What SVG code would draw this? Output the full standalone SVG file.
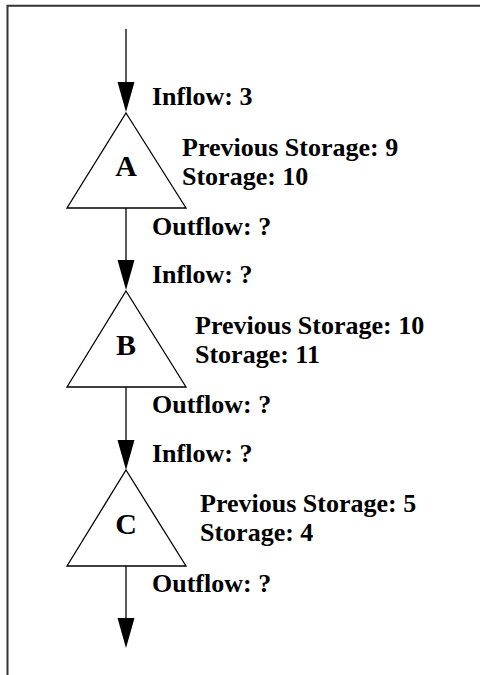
<svg xmlns="http://www.w3.org/2000/svg" width="480" height="675" viewBox="0 0 480 675">
<style>
.t{font-family:"Liberation Serif","Times New Roman",serif;font-weight:bold;font-size:26px;fill:#000}
.n{font-family:"Liberation Serif","Times New Roman",serif;font-weight:bold;font-size:30px;fill:#000;text-anchor:middle}
.tri{fill:#fff;stroke:#000;stroke-width:1.3}
.ln{stroke:#000;stroke-width:1.3;fill:none}
.ah{fill:#000}
</style>
<rect width="480" height="675" fill="#fff"/>
<path d="M7.5,675 V5.8 H480" fill="none" stroke="#333" stroke-width="2"/>
<g id="connectors">
<line class="ln" x1="126" y1="29" x2="126" y2="84"/>
<polygon class="ah" points="117.5,82 134.5,82 126,112"/>
<line class="ln" x1="126" y1="208" x2="126" y2="262"/>
<polygon class="ah" points="117.5,260 134.5,260 126,290"/>
<line class="ln" x1="126" y1="387" x2="126" y2="442"/>
<polygon class="ah" points="117.5,440 134.5,440 126,470"/>
<line class="ln" x1="126" y1="566" x2="126" y2="620"/>
<polygon class="ah" points="117.5,618 134.5,618 126,648"/>
</g>
<g id="A">
<polygon class="tri" points="126,113 186,208 67,208"/>
<text class="n" x="126" y="176">A</text>
<text class="t" x="152" y="105">Inflow: 3</text>
<text class="t" x="182" y="155.5">Previous Storage: 9</text>
<text class="t" x="182" y="184.5">Storage: 10</text>
<text class="t" x="152" y="235">Outflow: ?</text>
</g>
<g id="B">
<polygon class="tri" points="126,291 186,387 67,387"/>
<text class="n" x="126" y="355">B</text>
<text class="t" x="152" y="283">Inflow: ?</text>
<text class="t" x="195" y="333.5">Previous Storage: 10</text>
<text class="t" x="195" y="362.5">Storage: 11</text>
<text class="t" x="152" y="413">Outflow: ?</text>
</g>
<g id="C">
<polygon class="tri" points="126,470 186,566 67,566"/>
<text class="n" x="126" y="534">C</text>
<text class="t" x="152" y="462">Inflow: ?</text>
<text class="t" x="200" y="511.5">Previous Storage: 5</text>
<text class="t" x="200" y="540.5">Storage: 4</text>
<text class="t" x="152" y="592">Outflow: ?</text>
</g>
</svg>
